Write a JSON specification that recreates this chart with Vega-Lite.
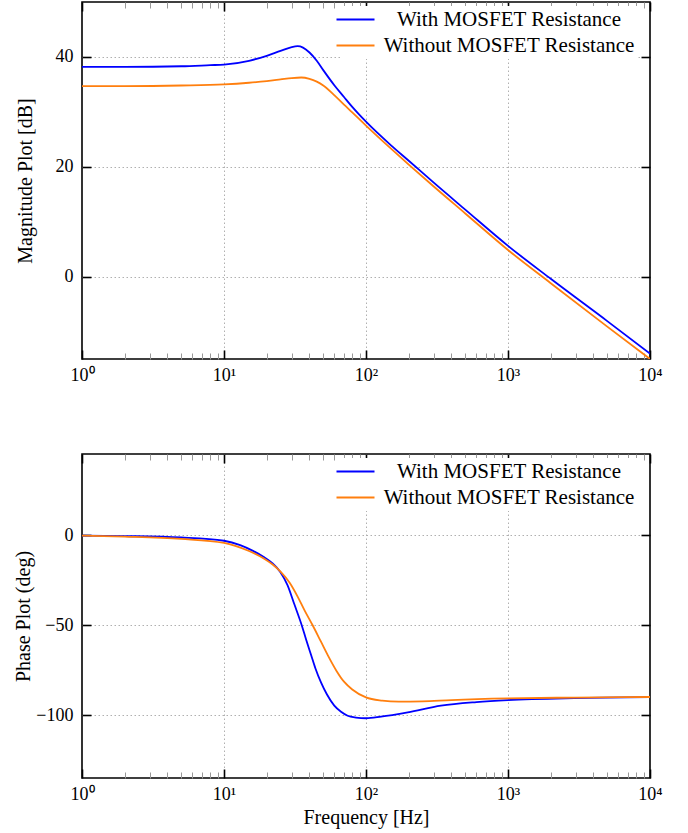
{
  "$schema": "https://vega.github.io/schema/vega-lite/v6.json",
  "padding": {"left": 13, "top": 0, "right": 5, "bottom": 5},
  "spacing": 67,
  "resolve": {"scale": {"color": "independent"}, "legend": {"color": "independent"}},
  "datasets": {
    "mag": [
      {"f":1,"v":38.2,"s":"With MOSFET Resistance"},{"f":2,"v":38.2,"s":"With MOSFET Resistance"},{"f":5,"v":38.3,"s":"With MOSFET Resistance"},{"f":8,"v":38.5,"s":"With MOSFET Resistance"},{"f":10,"v":38.6,"s":"With MOSFET Resistance"},{"f":15,"v":39.3,"s":"With MOSFET Resistance"},{"f":20,"v":40.2,"s":"With MOSFET Resistance"},{"f":25,"v":41.1,"s":"With MOSFET Resistance"},{"f":30,"v":41.8,"s":"With MOSFET Resistance"},{"f":33,"v":41.95,"s":"With MOSFET Resistance"},{"f":36,"v":41.7,"s":"With MOSFET Resistance"},{"f":40,"v":40.8,"s":"With MOSFET Resistance"},{"f":45,"v":39.3,"s":"With MOSFET Resistance"},{"f":50,"v":37.6,"s":"With MOSFET Resistance"},{"f":60,"v":34.8,"s":"With MOSFET Resistance"},{"f":70,"v":32.7,"s":"With MOSFET Resistance"},{"f":80,"v":30.9,"s":"With MOSFET Resistance"},{"f":100,"v":28.2,"s":"With MOSFET Resistance"},{"f":150,"v":23.9,"s":"With MOSFET Resistance"},{"f":200,"v":21.1,"s":"With MOSFET Resistance"},{"f":300,"v":17.1,"s":"With MOSFET Resistance"},{"f":500,"v":12.2,"s":"With MOSFET Resistance"},{"f":1000,"v":5.6,"s":"With MOSFET Resistance"},{"f":2000,"v":-0.4,"s":"With MOSFET Resistance"},{"f":5000,"v":-8.1,"s":"With MOSFET Resistance"},{"f":10000,"v":-14.0,"s":"With MOSFET Resistance"},
      {"f":1,"v":34.7,"s":"Without MOSFET Resistance"},{"f":2,"v":34.7,"s":"Without MOSFET Resistance"},{"f":5,"v":34.8,"s":"Without MOSFET Resistance"},{"f":10,"v":35.0,"s":"Without MOSFET Resistance"},{"f":15,"v":35.3,"s":"Without MOSFET Resistance"},{"f":20,"v":35.6,"s":"Without MOSFET Resistance"},{"f":25,"v":35.9,"s":"Without MOSFET Resistance"},{"f":30,"v":36.15,"s":"Without MOSFET Resistance"},{"f":35,"v":36.25,"s":"Without MOSFET Resistance"},{"f":40,"v":36.0,"s":"Without MOSFET Resistance"},{"f":45,"v":35.5,"s":"Without MOSFET Resistance"},{"f":50,"v":34.8,"s":"Without MOSFET Resistance"},{"f":60,"v":33.0,"s":"Without MOSFET Resistance"},{"f":70,"v":31.3,"s":"Without MOSFET Resistance"},{"f":80,"v":29.9,"s":"Without MOSFET Resistance"},{"f":100,"v":27.5,"s":"Without MOSFET Resistance"},{"f":150,"v":23.3,"s":"Without MOSFET Resistance"},{"f":200,"v":20.4,"s":"Without MOSFET Resistance"},{"f":300,"v":16.4,"s":"Without MOSFET Resistance"},{"f":500,"v":11.5,"s":"Without MOSFET Resistance"},{"f":1000,"v":4.85,"s":"Without MOSFET Resistance"},{"f":2000,"v":-1.2,"s":"Without MOSFET Resistance"},{"f":5000,"v":-9.1,"s":"Without MOSFET Resistance"},{"f":10000,"v":-15.0,"s":"Without MOSFET Resistance"}
    ],
    "phase": [
      {"f":1,"v":-0.3,"s":"With MOSFET Resistance"},{"f":2,"v":-0.6,"s":"With MOSFET Resistance"},{"f":5,"v":-1.4,"s":"With MOSFET Resistance"},{"f":10,"v":-3.2,"s":"With MOSFET Resistance"},{"f":13,"v":-5.6,"s":"With MOSFET Resistance"},{"f":16,"v":-8.8,"s":"With MOSFET Resistance"},{"f":19.2,"v":-12.4,"s":"With MOSFET Resistance"},{"f":22,"v":-15.8,"s":"With MOSFET Resistance"},{"f":24.9,"v":-20.5,"s":"With MOSFET Resistance"},{"f":28,"v":-27.8,"s":"With MOSFET Resistance"},{"f":31.3,"v":-38.5,"s":"With MOSFET Resistance"},{"f":35.4,"v":-50.5,"s":"With MOSFET Resistance"},{"f":38,"v":-58.5,"s":"With MOSFET Resistance"},{"f":41,"v":-66.5,"s":"With MOSFET Resistance"},{"f":44,"v":-74,"s":"With MOSFET Resistance"},{"f":48.2,"v":-81.9,"s":"With MOSFET Resistance"},{"f":53,"v":-88.5,"s":"With MOSFET Resistance"},{"f":59.8,"v":-94.8,"s":"With MOSFET Resistance"},{"f":66.7,"v":-98.2,"s":"With MOSFET Resistance"},{"f":74.3,"v":-100.4,"s":"With MOSFET Resistance"},{"f":85,"v":-101.4,"s":"With MOSFET Resistance"},{"f":100,"v":-101.8,"s":"With MOSFET Resistance"},{"f":127.6,"v":-100.9,"s":"With MOSFET Resistance"},{"f":197,"v":-98.5,"s":"With MOSFET Resistance"},{"f":337,"v":-94.8,"s":"With MOSFET Resistance"},{"f":600,"v":-92.8,"s":"With MOSFET Resistance"},{"f":1000,"v":-91.7,"s":"With MOSFET Resistance"},{"f":2931,"v":-90.6,"s":"With MOSFET Resistance"},{"f":10000,"v":-90.1,"s":"With MOSFET Resistance"},
      {"f":1,"v":-0.3,"s":"Without MOSFET Resistance"},{"f":2,"v":-0.9,"s":"Without MOSFET Resistance"},{"f":5,"v":-2.2,"s":"Without MOSFET Resistance"},{"f":10,"v":-4.4,"s":"Without MOSFET Resistance"},{"f":12,"v":-6.0,"s":"Without MOSFET Resistance"},{"f":15,"v":-8.9,"s":"Without MOSFET Resistance"},{"f":19.2,"v":-13.2,"s":"Without MOSFET Resistance"},{"f":22,"v":-16.4,"s":"Without MOSFET Resistance"},{"f":25,"v":-20.3,"s":"Without MOSFET Resistance"},{"f":29,"v":-26.5,"s":"Without MOSFET Resistance"},{"f":33,"v":-34.2,"s":"Without MOSFET Resistance"},{"f":37,"v":-42,"s":"Without MOSFET Resistance"},{"f":42,"v":-50,"s":"Without MOSFET Resistance"},{"f":48,"v":-59,"s":"Without MOSFET Resistance"},{"f":54,"v":-67,"s":"Without MOSFET Resistance"},{"f":62,"v":-75.5,"s":"Without MOSFET Resistance"},{"f":70,"v":-81.5,"s":"Without MOSFET Resistance"},{"f":80,"v":-85.8,"s":"Without MOSFET Resistance"},{"f":100,"v":-90.2,"s":"Without MOSFET Resistance"},{"f":130,"v":-92,"s":"Without MOSFET Resistance"},{"f":170,"v":-92.6,"s":"Without MOSFET Resistance"},{"f":250,"v":-92.4,"s":"Without MOSFET Resistance"},{"f":400,"v":-91.7,"s":"Without MOSFET Resistance"},{"f":1000,"v":-90.8,"s":"Without MOSFET Resistance"},{"f":3000,"v":-90.3,"s":"Without MOSFET Resistance"},{"f":10000,"v":-90.0,"s":"Without MOSFET Resistance"}
    ]
  },
  "vconcat": [
    {
      "width": 568,
      "height": 357,
      "data": {"name": "mag"},
      "layer": [
        {
          "mark": {"type": "line", "strokeWidth": 1.8, "clip": true, "interpolate": "monotone"},
          "encoding": {
            "x": {"field": "f", "type": "quantitative",
              "scale": {"type": "log", "domain": [1, 10000]},
              "axis": {"orient": "bottom", "values": [1, 10, 100, 1000, 10000], "labelExpr": "'10' + ['⁰','¹','²','³','⁴'][round(log(datum.value)/LN10)]", "tickSize": -9, "labelPadding": 16, "labelFlush": false, "labelOverlap": false, "grid": true, "gridOpacity": {"condition": {"test": "datum.value == 1 || datum.value == 10000", "value": 0}, "value": 1}, "title": null}},
            "y": {"field": "v", "type": "quantitative",
              "scale": {"domain": [-15, 50], "nice": false, "zero": false},
              "axis": {"orient": "left", "values": [0, 20, 40], "tickSize": -9, "labelPadding": 18, "grid": true, "labelExpr": "datum.value < 0 ? '−' + format(-datum.value, 'd') : format(datum.value, 'd')", "title": "Magnitude Plot [dB]", "titlePadding": 20}},
            "color": {"field": "s", "type": "nominal",
              "scale": {"domain": ["With MOSFET Resistance", "Without MOSFET Resistance"], "range": ["#0000ff", "#ff7f0e"]},
              "legend": {"orient": "none", "legendX": 260, "legendY": 4, "title": null, "symbolType": "M-2,0H2", "symbolSize": 361, "symbolStrokeWidth": 1.8, "labelFontSize": 21, "labelFont": "Liberation Serif", "labelColor": "#000", "labelAlign": "center", "labelOffset": 143, "labelLimit": 400, "fillColor": "#ffffff", "padding": 3, "rowPadding": 4}}
          }
        },
        {
          "mark": {"type": "point", "opacity": 0},
          "encoding": {
            "x": {"field": "f", "type": "quantitative", "axis": {"orient": "bottom", "values": [2,3,4,5,6,7,8,9,20,30,40,50,60,70,80,90,200,300,400,500,600,700,800,900,2000,3000,4000,5000,6000,7000,8000,9000], "tickSize": -6, "tickWidth": 1, "tickColor": "#999999", "labels": false, "grid": false, "title": null}},
            "y": {"field": "v", "type": "quantitative", "axis": {"orient": "right", "values": [0, 20, 40], "tickSize": -9, "labels": false, "grid": false, "title": null}}
          }
        },
        {
          "mark": {"type": "point", "opacity": 0},
          "encoding": {
            "x": {"field": "f", "type": "quantitative", "axis": {"orient": "top", "values": [1, 10, 100, 1000, 10000], "tickSize": -9, "labels": false, "grid": false, "title": null}},
            "y": {"field": "v", "type": "quantitative", "axis": null}
          }
        },
        {
          "mark": {"type": "point", "opacity": 0},
          "encoding": {
            "x": {"field": "f", "type": "quantitative", "axis": {"orient": "top", "values": [2,3,4,5,6,7,8,9,20,30,40,50,60,70,80,90,200,300,400,500,600,700,800,900,2000,3000,4000,5000,6000,7000,8000,9000], "tickSize": -6, "tickWidth": 1, "tickColor": "#999999", "labels": false, "grid": false, "title": null}},
            "y": {"field": "v", "type": "quantitative", "axis": null}
          }
        }
      ],
      "resolve": {"axis": {"x": "independent", "y": "independent"}}
    },
    {
      "width": 568,
      "height": 324,
      "data": {"name": "phase"},
      "layer": [
        {
          "mark": {"type": "line", "strokeWidth": 1.8, "clip": true, "interpolate": "monotone"},
          "encoding": {
            "x": {"field": "f", "type": "quantitative",
              "scale": {"type": "log", "domain": [1, 10000]},
              "axis": {"orient": "bottom", "values": [1, 10, 100, 1000, 10000], "labelExpr": "'10' + ['⁰','¹','²','³','⁴'][round(log(datum.value)/LN10)]", "tickSize": -9, "labelPadding": 16, "labelFlush": false, "labelOverlap": false, "grid": true, "gridOpacity": {"condition": {"test": "datum.value == 1 || datum.value == 10000", "value": 0}, "value": 1}, "title": "Frequency [Hz]", "titlePadding": 4}},
            "y": {"field": "v", "type": "quantitative",
              "scale": {"domain": [-135, 45], "nice": false, "zero": false},
              "axis": {"orient": "left", "values": [-100, -50, 0], "tickSize": -9, "labelPadding": 18, "grid": true, "labelExpr": "datum.value < 0 ? '−' + format(-datum.value, 'd') : format(datum.value, 'd')", "title": "Phase Plot (deg)", "titlePadding": 2}},
            "color": {"field": "s", "type": "nominal",
              "scale": {"domain": ["With MOSFET Resistance", "Without MOSFET Resistance"], "range": ["#0000ff", "#ff7f0e"]},
              "legend": {"orient": "none", "legendX": 260, "legendY": 4, "title": null, "symbolType": "M-2,0H2", "symbolSize": 361, "symbolStrokeWidth": 1.8, "labelFontSize": 21, "labelFont": "Liberation Serif", "labelColor": "#000", "labelAlign": "center", "labelOffset": 143, "labelLimit": 400, "fillColor": "#ffffff", "padding": 3, "rowPadding": 4}}
          }
        },
        {
          "mark": {"type": "point", "opacity": 0},
          "encoding": {
            "x": {"field": "f", "type": "quantitative", "axis": {"orient": "bottom", "values": [2,3,4,5,6,7,8,9,20,30,40,50,60,70,80,90,200,300,400,500,600,700,800,900,2000,3000,4000,5000,6000,7000,8000,9000], "tickSize": -6, "tickWidth": 1, "tickColor": "#999999", "labels": false, "grid": false, "title": null}},
            "y": {"field": "v", "type": "quantitative", "axis": {"orient": "right", "values": [-100, -50, 0], "tickSize": -9, "labels": false, "grid": false, "title": null}}
          }
        },
        {
          "mark": {"type": "point", "opacity": 0},
          "encoding": {
            "x": {"field": "f", "type": "quantitative", "axis": {"orient": "top", "values": [1, 10, 100, 1000, 10000], "tickSize": -9, "labels": false, "grid": false, "title": null}},
            "y": {"field": "v", "type": "quantitative", "axis": null}
          }
        },
        {
          "mark": {"type": "point", "opacity": 0},
          "encoding": {
            "x": {"field": "f", "type": "quantitative", "axis": {"orient": "top", "values": [2,3,4,5,6,7,8,9,20,30,40,50,60,70,80,90,200,300,400,500,600,700,800,900,2000,3000,4000,5000,6000,7000,8000,9000], "tickSize": -6, "tickWidth": 1, "tickColor": "#999999", "labels": false, "grid": false, "title": null}},
            "y": {"field": "v", "type": "quantitative", "axis": null}
          }
        }
      ],
      "resolve": {"axis": {"x": "independent", "y": "independent"}}
    }
  ],
  "config": {
    "font": "Liberation Serif",
    "view": {"stroke": "#000000", "strokeWidth": 1.6},
    "axis": {"labelFont": "Liberation Serif", "titleFont": "Liberation Serif", "labelColor": "#000", "titleColor": "#000", "titleFontWeight": "normal", "labelFontSize": 18, "titleFontSize": 20, "domain": false, "tickColor": "#000", "tickWidth": 1.6, "gridColor": "#b0b0b0", "gridDash": [1.5, 2.5], "gridWidth": 1}
  }
}
